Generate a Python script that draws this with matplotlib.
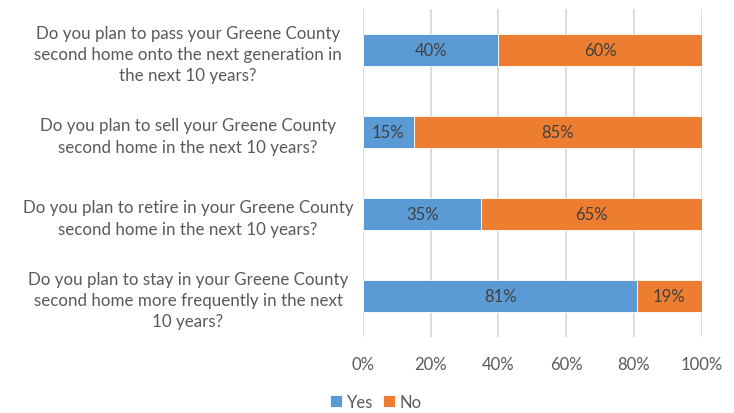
import matplotlib.pyplot as plt
from matplotlib.ticker import FixedLocator

categories = [
    "Do you plan to pass your Greene County\nsecond home onto the next generation in\nthe next 10 years?",
    "Do you plan to sell your Greene County\nsecond home in the next 10 years?",
    "Do you plan to retire in your Greene County\nsecond home in the next 10 years?",
    "Do you plan to stay in your Greene County\nsecond home more frequently in the next\n10 years?",
]
yes = [40, 15, 35, 81]
no = [60, 85, 65, 19]
xticks = [0, 20, 40, 60, 80, 100]
xticklabels = ["0%", "20%", "40%", "60%", "80%", "100%"]

plt.rcParams['font.family'] = ['Lato', 'DejaVu Sans']
txt = '#595959'

fig = plt.figure(figsize=(7.34, 4.14), dpi=100)
W, H = 734, 414
ax = fig.add_axes([363 / W, 1 - 338 / H, (701.5 - 363) / W, (338 - 10) / H])

y = list(range(len(categories)))
ax.barh(y, yes, height=0.4, color='#5B9BD5', edgecolor='white', linewidth=0.6, label='Yes', zorder=3)
ax.barh(y, no, left=yes, height=0.4, color='#ED7D31', edgecolor='white', linewidth=0.6, label='No', zorder=3)

for i in y:
    ax.text(yes[i] / 2, i, f"{yes[i]}%", ha='center', va='center', color='#404040', fontsize=12, zorder=4)
    ax.text(yes[i] + no[i] / 2, i, f"{no[i]}%", ha='center', va='center', color='#404040', fontsize=12, zorder=4)

ax.set_ylim(3.5, -0.5)
ax.set_xlim(0, 100)
ax.xaxis.set_major_locator(FixedLocator(xticks))
ax.set_xticklabels(xticklabels, fontsize=12, color=txt)
ax.set_yticks(y)
ax.set_yticklabels(categories, fontsize=12.2, color=txt, ha='center', multialignment='center', linespacing=1.4)
ax.tick_params(axis='y', length=0, pad=126)
ax.tick_params(axis='x', length=0, pad=14)
ax.grid(axis='x', color='#d9d9d9', linewidth=1.3, zorder=0)
for s in ax.spines.values():
    s.set_visible(False)

leg = fig.legend(loc='center', bbox_to_anchor=(376 / W, 1 - 403 / H), ncol=2, frameon=False,
                 fontsize=12, handlelength=0.7, handleheight=0.7, handletextpad=0.3, columnspacing=0.6)
for t in leg.get_texts():
    t.set_color(txt)

fig.savefig('out.png', dpi=100)
